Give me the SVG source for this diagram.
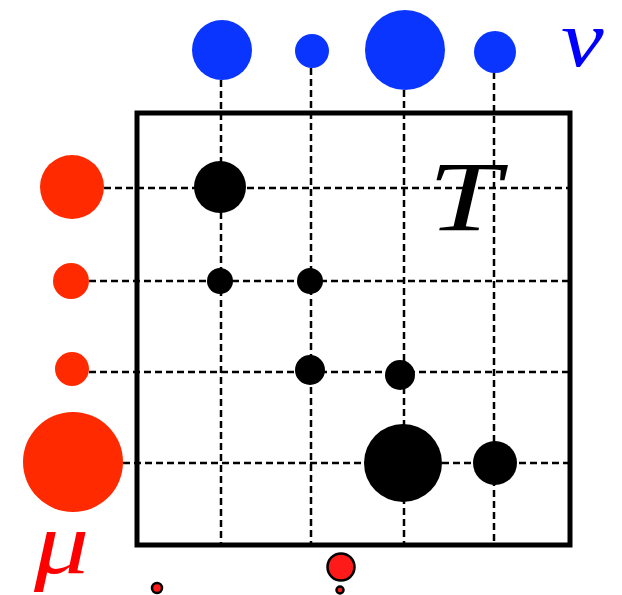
<svg xmlns="http://www.w3.org/2000/svg" width="622" height="595" viewBox="0 0 622 595">
<style>
.grid{stroke:#000;stroke-width:2.5;stroke-dasharray:7 4;fill:none}
.blue{fill:#0a35ff}
.red{fill:#ff2a00}
.blk{fill:#000}
.lbl{font-family:"Liberation Serif","DejaVu Serif",serif;font-style:italic}
</style>
<rect width="622" height="595" fill="#fff"/>
<g id="connectors">
<line class="grid" x1="221" y1="80" x2="221" y2="545"/>
<line class="grid" x1="311" y1="68" x2="311" y2="545"/>
<line class="grid" x1="404" y1="90" x2="404" y2="545"/>
<line class="grid" x1="494" y1="72" x2="494" y2="545"/>
<line class="grid" x1="104" y1="188" x2="568" y2="188"/>
<line class="grid" x1="89" y1="281" x2="568" y2="281"/>
<line class="grid" x1="89" y1="372" x2="568" y2="372"/>
<line class="grid" x1="123" y1="463" x2="568" y2="463"/>
</g>
<g id="frame"><rect x="137" y="113" width="433" height="432" fill="none" stroke="#000" stroke-width="5"/></g>
<g id="nu">
<circle class="blue" cx="222" cy="50" r="30"/>
<circle class="blue" cx="312" cy="51" r="17"/>
<circle class="blue" cx="405" cy="50" r="40"/>
<circle class="blue" cx="495" cy="52" r="21"/>
</g>
<g id="mu">
<circle class="red" cx="72" cy="187" r="32"/>
<circle class="red" cx="71" cy="281" r="18"/>
<circle class="red" cx="72" cy="369" r="17"/>
<circle class="red" cx="73" cy="462" r="50"/>
</g>
<g id="T">
<circle class="blk" cx="220" cy="187" r="26"/>
<circle class="blk" cx="220" cy="281" r="13"/>
<circle class="blk" cx="310" cy="281" r="13"/>
<circle class="blk" cx="310" cy="370" r="15"/>
<circle class="blk" cx="400" cy="375" r="15"/>
<circle class="blk" cx="403" cy="463" r="39"/>
<circle class="blk" cx="495" cy="463" r="22"/>
</g>
<g id="bottom">
<circle cx="157" cy="588" r="5" fill="#ff1a1a" stroke="#000" stroke-width="2.5"/>
<circle cx="341" cy="567" r="13.5" fill="#ff1a1a" stroke="#000" stroke-width="2.5"/>
<circle cx="340" cy="590" r="3.5" fill="#ff1a1a" stroke="#000" stroke-width="2.5"/>
</g>
<g id="labels">
<text class="lbl" x="0" y="0" font-size="100" fill="#000" transform="translate(428 230) scale(1.3 1)">T</text>
<text class="lbl" x="0" y="0" font-size="88" fill="#ff0000" transform="translate(34 573) scale(1.25 1)">μ</text>
<text class="lbl" x="0" y="0" font-size="80" fill="#0000ff" transform="translate(561 66) scale(1.2 1)">ν</text>
</g>
</svg>
